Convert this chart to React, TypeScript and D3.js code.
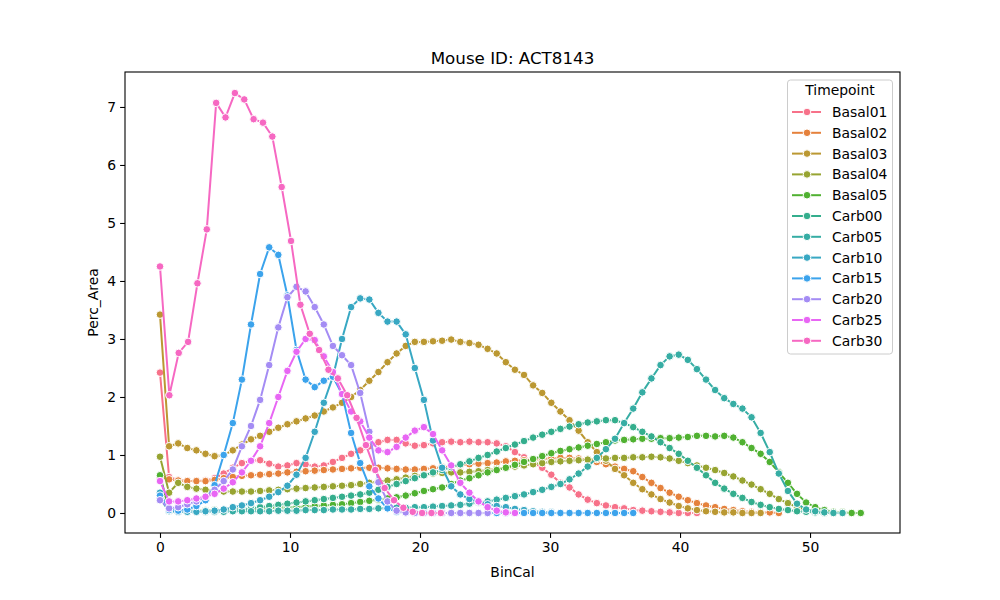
import React, { useRef, useEffect } from "react";
import * as d3 from "d3";

// --- DATA ---
const timepoints = ["Basal01", "Basal02", "Basal03", "Basal04", "Basal05", "Carb00", "Carb05", "Carb10", "Carb15", "Carb20", "Carb25", "Carb30"];
const colors = ["#f77189", "#e5813c", "#bb9832", "#97a431", "#50b131", "#34ae8d", "#36ada4", "#38a8c3", "#3ba3ec", "#a48cf4", "#e866f4", "#f668c2"];
// bin width (BinCal step) of each timepoint
const binSteps = [0.7, 0.7, 0.7, 0.7, 0.7, 0.7, 0.7, 0.7, 0.7, 0.7, 0.7, 0.72];

const basal01 = [2.42, 0.62, 0.57, 0.55, 0.55, 0.56, 0.6, 0.68, 0.78, 0.86, 0.9, 0.91, 0.85, 0.8, 0.82, 0.86, 0.84, 0.8, 0.82, 0.88, 0.95, 1.02, 1.08, 1.15, 1.22, 1.26, 1.26, 1.2, 1.16, 1.17, 1.2, 1.22, 1.23, 1.22, 1.23, 1.22, 1.22, 1.2, 1.15, 1.05, 0.96, 0.87, 0.78, 0.66, 0.52, 0.44, 0.32, 0.23, 0.17, 0.13, 0.1, 0.08, 0.05, 0.04, 0.03, 0.02, 0.01, 0, 0, 0];
const basal02 = [0.62, 0.58, 0.56, 0.55, 0.55, 0.55, 0.57, 0.6, 0.62, 0.64, 0.65, 0.66, 0.67, 0.68, 0.7, 0.71, 0.72, 0.73, 0.74, 0.75, 0.76, 0.77, 0.78, 0.78, 0.78, 0.77, 0.76, 0.75, 0.75, 0.76, 0.77, 0.79, 0.8, 0.82, 0.84, 0.85, 0.86, 0.87, 0.89, 0.9, 0.91, 0.92, 0.93, 0.94, 0.95, 0.95, 0.94, 0.92, 0.88, 0.84, 0.8, 0.76, 0.72, 0.62, 0.52, 0.43, 0.35, 0.28, 0.22, 0.17, 0.13, 0.1, 0.07, 0.05, 0.03, 0.02, 0.01, 0.01, 0];
const basal03 = [3.42, 1.15, 1.2, 1.12, 1.08, 1.02, 0.98, 1.0, 1.08, 1.18, 1.27, 1.33, 1.4, 1.47, 1.53, 1.58, 1.63, 1.68, 1.75, 1.82, 1.9, 2.0, 2.12, 2.28, 2.43, 2.6, 2.75, 2.88, 2.95, 2.95, 2.96, 2.97, 2.99, 2.95, 2.93, 2.9, 2.83, 2.75, 2.6, 2.47, 2.38, 2.2, 2.07, 1.9, 1.75, 1.6, 1.42, 1.22, 1.05, 0.9, 0.76, 0.65, 0.52, 0.41, 0.32, 0.24, 0.18, 0.12, 0.08, 0.05, 0.03, 0.02, 0.01, 0.01, 0, 0, 0];
const basal04 = [0.97, 0.35, 0.52, 0.45, 0.42, 0.4, 0.38, 0.37, 0.37, 0.37, 0.37, 0.38, 0.39, 0.4, 0.41, 0.42, 0.43, 0.44, 0.45, 0.46, 0.47, 0.48, 0.5, 0.52, 0.54, 0.56, 0.58, 0.61, 0.64, 0.66, 0.68, 0.69, 0.7, 0.7, 0.71, 0.72, 0.74, 0.76, 0.78, 0.8, 0.82, 0.84, 0.86, 0.88, 0.89, 0.9, 0.91, 0.92, 0.93, 0.94, 0.95, 0.95, 0.96, 0.96, 0.97, 0.96, 0.94, 0.9, 0.86, 0.82, 0.78, 0.74, 0.69, 0.63, 0.56, 0.49, 0.41, 0.33, 0.24, 0.17, 0.1, 0.06, 0.03, 0.01, 0];
const basal05 = [0.65, 0.05, 0.04, 0.04, 0.04, 0.04, 0.05, 0.05, 0.06, 0.06, 0.07, 0.08, 0.08, 0.09, 0.1, 0.1, 0.11, 0.12, 0.13, 0.14, 0.15, 0.17, 0.19, 0.21, 0.23, 0.25, 0.27, 0.3, 0.34, 0.38, 0.41, 0.44, 0.5, 0.56, 0.6, 0.65, 0.7, 0.74, 0.78, 0.83, 0.88, 0.93, 0.98, 1.03, 1.07, 1.1, 1.13, 1.16, 1.19, 1.22, 1.25, 1.26, 1.27, 1.28, 1.28, 1.29, 1.29, 1.3, 1.31, 1.33, 1.33, 1.32, 1.33, 1.3, 1.22, 1.12, 1.02, 0.88, 0.7, 0.52, 0.33, 0.18, 0.1, 0.05, 0.02, 0.01, 0, 0];
const carb00 = [0.3, 0.05, 0.03, 0.02, 0.02, 0.02, 0.03, 0.04, 0.05, 0.06, 0.08, 0.1, 0.12, 0.14, 0.16, 0.18, 0.2, 0.22, 0.24, 0.26, 0.28, 0.3, 0.32, 0.35, 0.4, 0.45, 0.5, 0.55, 0.6, 0.65, 0.7, 0.74, 0.79, 0.84, 0.89, 0.95, 1.0, 1.06, 1.12, 1.18, 1.24, 1.3, 1.35, 1.4, 1.45, 1.49, 1.53, 1.56, 1.58, 1.6, 1.6, 1.55, 1.48, 1.4, 1.32, 1.22, 1.12, 1.02, 0.9, 0.78, 0.65, 0.52, 0.42, 0.33, 0.26, 0.19, 0.14, 0.1, 0.07, 0.05, 0.03, 0.02, 0.01, 0];
const carb05 = [0.25, 0.03, 0.02, 0.02, 0.02, 0.02, 0.02, 0.02, 0.03, 0.03, 0.03, 0.03, 0.03, 0.04, 0.04, 0.04, 0.05, 0.05, 0.05, 0.06, 0.06, 0.06, 0.07, 0.07, 0.08, 0.08, 0.09, 0.09, 0.1, 0.1, 0.11, 0.12, 0.13, 0.14, 0.16, 0.18, 0.2, 0.23, 0.26, 0.29, 0.32, 0.36, 0.4, 0.45, 0.5, 0.58, 0.68, 0.8, 0.95, 1.1, 1.28, 1.55, 1.8, 2.08, 2.32, 2.55, 2.7, 2.73, 2.64, 2.48, 2.3, 2.12, 1.98, 1.88, 1.8, 1.65, 1.38, 1.05, 0.68, 0.38, 0.16, 0.06, 0.03, 0.01, 0, 0];
const carb10 = [0.35, 0.05, 0.02, 0.02, 0.02, 0.03, 0.04, 0.06, 0.1, 0.13, 0.17, 0.22, 0.28, 0.36, 0.47, 0.66, 0.95, 1.4, 1.9, 2.35, 3.0, 3.55, 3.7, 3.68, 3.45, 3.3, 3.3, 3.08, 2.5, 1.95, 1.25, 0.78, 0.46, 0.32, 0.24, 0.19, 0.15, 0.12, 0.1, 0.07, 0.05, 0.03, 0.02, 0.01];
const carb15 = [0.3, 0.05, 0.04, 0.06, 0.12, 0.22, 0.48, 1.0, 1.55, 2.3, 3.25, 4.12, 4.58, 4.45, 3.75, 2.81, 2.3, 2.17, 2.28, 2.35, 2.05, 1.38, 0.86, 0.46, 0.25, 0.08, 0.02, 0.01, 0, 0, 0, 0, 0, 0, 0, 0, 0, 0, 0, 0, 0, 0, 0, 0, 0, 0, 0, 0, 0, 0, 0, 0, 0];
const carb20 = [0.22, 0.08, 0.1, 0.15, 0.2, 0.28, 0.4, 0.55, 0.75, 1.15, 1.5, 1.95, 2.55, 3.2, 3.72, 3.9, 3.82, 3.55, 3.25, 2.88, 2.72, 2.55, 2.07, 1.4, 0.53, 0.2, 0.04, 0.01, 0, 0, 0, 0, 0, 0, 0, 0, 0];
const carb25 = [0.55, 0.2, 0.2, 0.22, 0.25, 0.28, 0.33, 0.42, 0.53, 0.7, 0.9, 1.15, 1.55, 2.0, 2.45, 2.78, 3.0, 2.98, 2.7, 2.43, 2.05, 1.75, 1.58, 1.3, 1.08, 1.05, 1.14, 1.3, 1.42, 1.48, 1.36, 1.08, 0.82, 0.52, 0.35, 0.2, 0.1, 0.04, 0.01, 0];
const carb30 = [4.25, 2.03, 2.76, 2.95, 3.96, 4.89, 7.07, 6.82, 7.24, 7.13, 6.79, 6.73, 6.49, 5.62, 4.69, 3.59, 3.09, 2.81, 2.47, 2.32, 2.03, 1.64, 1.17, 0.74, 0.43, 0.22, 0.09, 0.02, 0, 0, 0];

const seriesValues = [basal01, basal02, basal03, basal04, basal05, carb00, carb05, carb10, carb15, carb20, carb25, carb30];
const xTicks = [0, 10, 20, 30, 40, 50];
const yTicks = [0, 1, 2, 3, 4, 5, 6, 7];

const W = 1000;
const H = 600;

export default function App() {
  const svgRef = useRef<SVGSVGElement>(null);

  useEffect(() => {
    if (!svgRef.current) return;
    const svg = d3.select(svgRef.current);
    svg.selectAll("*").remove();

    const margin = { top: 72, right: 100, bottom: 67, left: 125 };
    const x = d3.scaleLinear().domain([-2.692, 56.92]).range([margin.left, W - margin.right]);
    const y = d3.scaleLinear().domain([-0.345, 7.603]).range([H - margin.bottom, margin.top]);
    const font = "DejaVu Sans, sans-serif";

    // axes
    svg.append("g")
      .attr("transform", `translate(0,${H - margin.bottom})`)
      .call(d3.axisBottom(x).tickValues(xTicks).tickSize(4.9).tickPadding(4))
      .call(g => g.select(".domain").remove())
      .call(g => g.selectAll("text").attr("font-size", 13.9).attr("font-family", font).attr("fill", "#000"))
      .call(g => g.selectAll("line").attr("stroke", "#000").attr("stroke-width", 1.1));

    svg.append("g")
      .attr("transform", `translate(${margin.left},0)`)
      .call(d3.axisLeft(y).tickValues(yTicks).tickSize(4.9).tickPadding(4))
      .call(g => g.select(".domain").remove())
      .call(g => g.selectAll("text").attr("font-size", 13.9).attr("font-family", font).attr("fill", "#000"))
      .call(g => g.selectAll("line").attr("stroke", "#000").attr("stroke-width", 1.1));

    // series
    const plot = svg.append("g");
    seriesValues.forEach((vals, si) => {
      const pts = vals.map((v, i) => ({ x: i * binSteps[si], y: v }));
      const g = plot.append("g");
      g.append("path")
        .datum(pts)
        .attr("fill", "none")
        .attr("stroke", colors[si])
        .attr("stroke-width", 2)
        .attr("d", d3.line<{ x: number; y: number }>().x(d => x(d.x)).y(d => y(d.y)));
      g.selectAll("circle")
        .data(pts)
        .join("circle")
        .attr("cx", d => x(d.x))
        .attr("cy", d => y(d.y))
        .attr("r", 3.8)
        .attr("fill", colors[si])
        .attr("stroke", "#fff")
        .attr("stroke-width", 1);
    });

    // frame
    svg.append("rect")
      .attr("x", margin.left)
      .attr("y", margin.top)
      .attr("width", W - margin.left - margin.right)
      .attr("height", H - margin.top - margin.bottom)
      .attr("fill", "none")
      .attr("stroke", "#000")
      .attr("stroke-width", 1.1);

    // labels
    svg.append("text").attr("x", 512.5).attr("y", 64).attr("text-anchor", "middle")
      .attr("font-size", 16.7).attr("font-family", font).text("Mouse ID: ACT8143");
    svg.append("text").attr("x", 512.5).attr("y", 577).attr("text-anchor", "middle")
      .attr("font-size", 13.9).attr("font-family", font).text("BinCal");
    svg.append("text").attr("transform", "translate(98,302.5) rotate(-90)").attr("text-anchor", "middle")
      .attr("font-size", 13.9).attr("font-family", font).text("Perc_Area");

    // legend
    const lg = svg.append("g");
    lg.append("rect").attr("x", 787.5).attr("y", 80).attr("width", 105).attr("height", 274).attr("rx", 3)
      .attr("fill", "#fff").attr("fill-opacity", 0.8).attr("stroke", "#ccc").attr("stroke-width", 1);
    lg.append("text").attr("x", 840).attr("y", 95).attr("text-anchor", "middle")
      .attr("font-size", 13.9).attr("font-family", font).text("Timepoint");
    timepoints.forEach((name, i) => {
      const cy = 112 + i * 20.8;
      lg.append("line").attr("x1", 792).attr("x2", 821).attr("y1", cy).attr("y2", cy)
        .attr("stroke", colors[i]).attr("stroke-width", 2);
      lg.append("circle").attr("cx", 807).attr("cy", cy).attr("r", 3.8)
        .attr("fill", colors[i]).attr("stroke", "#fff").attr("stroke-width", 1);
      lg.append("text").attr("x", 832).attr("y", cy + 5)
        .attr("font-size", 13.9).attr("font-family", font).text(name);
    });
  }, []);

  return (
    <svg ref={svgRef} width={W} height={H}
      style={{ position: "absolute", left: 0, top: 0, background: "#fff" }} />
  );
}
